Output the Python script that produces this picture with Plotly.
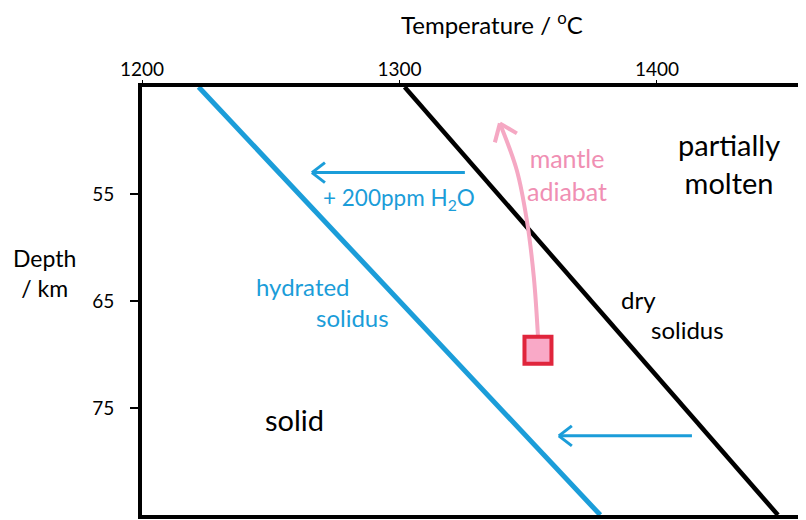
import plotly.graph_objects as go

# solidus lines (temperature in C, depth in km)
DEPTH_ENDS = [45, 85]
HYDRATED_SOLIDUS = [1222, 1378]
DRY_SOLIDUS = [1302, 1447]

# mantle adiabat path, from the source box up to the arrow tip
ADIABAT_T = [1353.8, 1352.2, 1349.5, 1345.6, 1339.0]
ADIABAT_D = [68.3, 62.8, 57.5, 52.8, 48.4]
SOURCE_T = [1353.8]
SOURCE_D = [69.6]

# water-effect arrows: (tail T, head T, depth)
WATER_ARROWS = [(1325.4, 1266.0, 53.0), (1413.6, 1361.9, 77.6)]

X_RANGE = [1200, 1457.9]
Y_RANGE = [85, 45]
X_TICKS = [1200, 1300, 1400]
Y_TICKS = [55, 65, 75]

BLUE = "#1b9dd9"
PINK = "#f5a8c3"
PINK_TXT = "#f08fb3"
FONT = "Lato"

# the page body adds an 8px margin, so the figure is 8px smaller
OFF = 8
W, H = 806 - OFF, 520 - OFF
ML, MR, MT, MB = 142 - OFF, 0, 87 - OFF, 5
PW, PH = W - ML - MR, H - MT - MB
px_x = (X_RANGE[1] - X_RANGE[0]) / PW
px_y = (Y_RANGE[0] - Y_RANGE[1]) / PH


def chevron(fig, tx, ty, arms, color, width):
    """open arrow head: arms given as pixel offsets from the tip"""
    xs, ys = [], []
    for dx, dy in arms:
        xs += [tx + dx * px_x, tx, None]
        ys += [ty + dy * px_y, ty, None]
    fig.add_trace(go.Scatter(x=xs, y=ys, mode="lines", showlegend=False,
                             line=dict(color=color, width=width), hoverinfo="skip"))


fig = go.Figure()
fig.add_trace(go.Scatter(x=HYDRATED_SOLIDUS, y=DEPTH_ENDS, mode="lines",
                         line=dict(color=BLUE, width=5), showlegend=False))
fig.add_trace(go.Scatter(x=DRY_SOLIDUS, y=DEPTH_ENDS, mode="lines",
                         line=dict(color="black", width=4.5), showlegend=False))

for tail, head, d in WATER_ARROWS:
    fig.add_trace(go.Scatter(x=[tail, head], y=[d, d], mode="lines",
                             line=dict(color=BLUE, width=3), showlegend=False))
    chevron(fig, head, d, [(13, -10), (13, 10)], BLUE, 3)

fig.add_trace(go.Scatter(x=ADIABAT_T, y=ADIABAT_D, mode="lines", line_shape="spline",
                         line=dict(color=PINK, width=4), showlegend=False))
chevron(fig, ADIABAT_T[-1], ADIABAT_D[-1], [(-5, 19), (17, 10)], PINK, 4)
fig.add_trace(go.Scatter(x=SOURCE_T, y=SOURCE_D, mode="markers", showlegend=False,
                         marker=dict(symbol="square", size=27, color="#f9a9c7",
                                     line=dict(color="#e0253c", width=4))))


def label(text, x, y, size=24, color="black"):
    fig.add_annotation(x=x, y=y, xref="x", yref="y", text=text, showarrow=False,
                       xanchor="center", yanchor="middle",
                       font=dict(family=FONT, size=size, color=color))


def page_label(text, px, py, size):
    # px, py: page pixels of the text centre, outside the axes
    fig.add_annotation(x=(px - OFF - ML) / PW, y=(H - MB - (py - OFF)) / PH,
                       xref="paper", yref="paper", text=text, showarrow=False,
                       xanchor="center", yanchor="middle",
                       font=dict(family=FONT, size=size, color="black"))


label("partially<br>molten", 1428.0, 52.15, size=29)
label("mantle<br>adiabat", 1365.0, 53.2, size=25, color=PINK_TXT)
label("+ 200ppm H<sub>2</sub>O", 1299.8, 55.5, size=22.5, color=BLUE)
label("hydrated", 1262.5, 63.65, color=BLUE)
label("solidus", 1281.9, 66.5, color=BLUE)
label("dry", 1393.0, 64.86)
label("solidus", 1412.0, 67.65)
label("solid", 1259.4, 76.1, size=29)
page_label("Temperature / <sup>o</sup>C", 492, 23, 24)
page_label("Depth<br>/ km", 44, 273, 23)

fig.update_layout(
    width=W, height=H,
    margin=dict(l=ML, r=MR, t=MT, b=MB),
    paper_bgcolor="white", plot_bgcolor="white",
    font=dict(family=FONT, size=19, color="black"),
    xaxis=dict(range=X_RANGE, side="top", tickvals=X_TICKS, showgrid=False,
               zeroline=False, showline=True, mirror=True, linecolor="black",
               linewidth=4, ticks="outside", ticklen=3, tickcolor="black",
               ticklabelstandoff=-4, automargin=False),
    yaxis=dict(range=Y_RANGE, tickvals=Y_TICKS, showgrid=False, zeroline=False,
               showline=True, linecolor="black", linewidth=4, ticks="outside",
               ticklen=8, tickwidth=1.5, tickcolor="black", ticklabelstandoff=12,
               automargin=False),
)

fig.write_html("out.html")
